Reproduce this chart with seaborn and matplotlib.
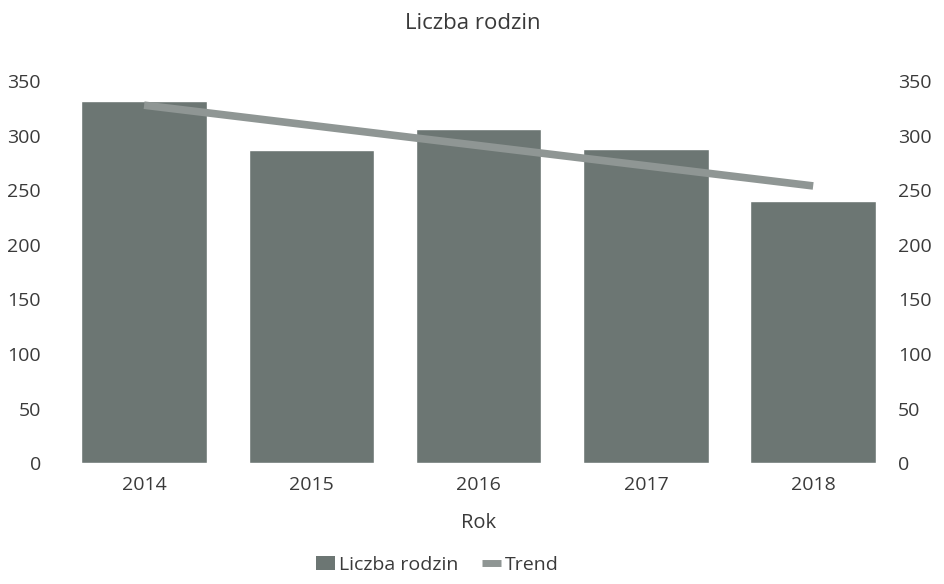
import numpy as np
import pandas as pd
import seaborn as sns
import matplotlib
matplotlib.use("Agg")
import matplotlib.pyplot as plt
from matplotlib.patches import Patch
from matplotlib.lines import Line2D

# dane
years = ["2014", "2015", "2016", "2017", "2018"]
families = [332, 287, 306, 288, 240]
trend_years = ["2014", "2018"]
trend_values = [328, 254]

bar_color = "#6c7673"
trend_color = "#8f9694"
text_color = "#3a3a3a"

sns.set_theme(style="white")
plt.rcParams['font.family'] = ['Open Sans', 'DejaVu Sans']

df = pd.DataFrame({'Rok': years, 'Liczba rodzin': families})

fig = plt.figure(figsize=(9.45, 5.84), dpi=100)
ax = fig.add_axes([0.064, 0.207, 0.885, 0.654])
sns.barplot(data=df, x='Rok', y='Liczba rodzin', color=bar_color,
            saturation=1, width=0.75, ax=ax)
ax.set_ylim(0, 350)
ax.set_xlim(-0.5, len(years) - 0.5)
ax.set_yticks(np.arange(0, 351, 50))
ax.set_ylabel('')
ax.set_xlabel('Rok', fontsize=14.5, color=text_color, labelpad=14)
ax.tick_params(axis='x', labelsize=14, colors=text_color, pad=9, length=0)
ax.tick_params(axis='y', labelsize=14, colors=text_color, pad=14, length=0)
sns.despine(ax=ax, left=True, bottom=True)

ax2 = ax.twinx()
tx = [years.index(y) for y in trend_years]
ax2.plot(tx, trend_values, color=trend_color, lw=5.5, solid_capstyle='butt')
ax2.set_ylim(0, 350)
ax2.set_yticks(np.arange(0, 351, 50))
ax2.tick_params(axis='y', labelsize=14, colors=text_color, pad=1, length=0)
sns.despine(ax=ax2, left=True, bottom=True, right=True)

fig.suptitle('Liczba rodzin', fontsize=16, color=text_color, y=0.978)

handles = [Patch(facecolor=bar_color, edgecolor='none'),
           Line2D([0], [0], color=trend_color, lw=5, solid_capstyle='butt')]
fig.legend(handles, ['Liczba rodzin', 'Trend'], loc='lower center',
           bbox_to_anchor=(0.463, -0.012), ncol=2, frameon=False,
           fontsize=14, handlelength=1.0, handletextpad=0.2, columnspacing=1.2,
           labelcolor=text_color)

fig.savefig('out.png', dpi=100)
